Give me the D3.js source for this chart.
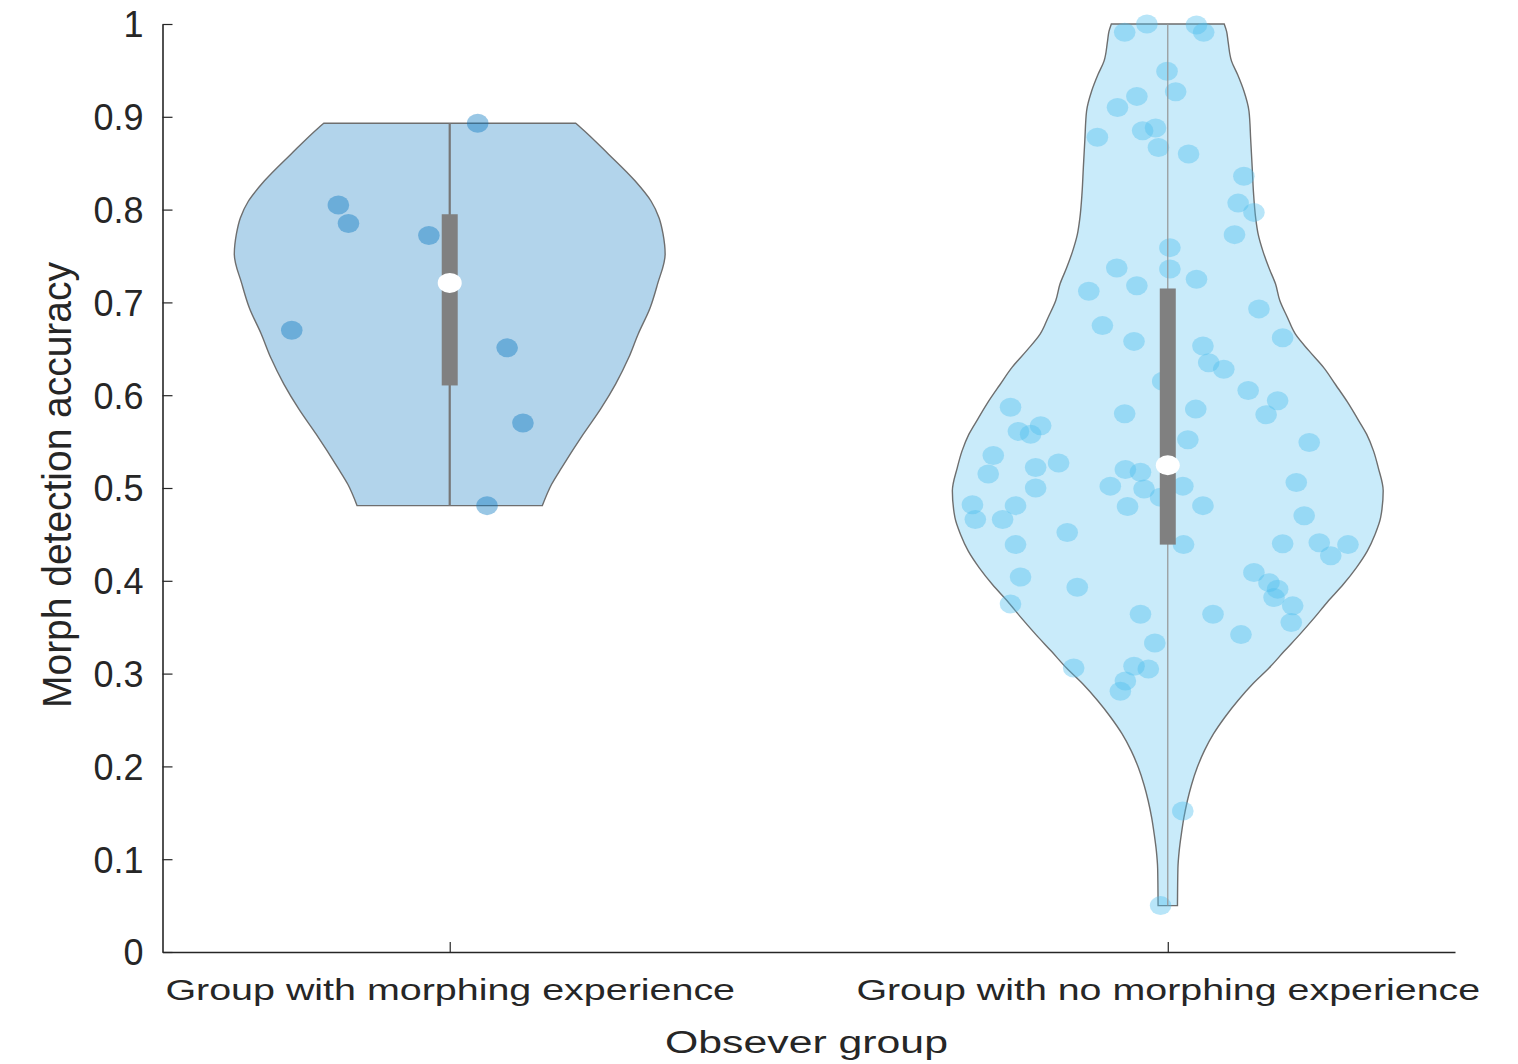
<!DOCTYPE html>
<html>
<head>
<meta charset="utf-8">
<script src="https://cdn.jsdelivr.net/npm/d3@7"></script>
<style>
  body { margin: 0; background: #fff; }
  svg { display: block; }
  text { font-family: "Liberation Sans", Arial, Helvetica, sans-serif; fill: #262626; }
</style>
</head>
<body>
<svg id="chart" width="1518" height="1064"></svg>
<script>
// ---- data ----------------------------------------------------------------
const categories = ["Group with morphing experience", "Group with no morphing experience"];
const categoryPositions = [1, 2];

const yTicks = [0, 0.1, 0.2, 0.3, 0.4, 0.5, 0.6, 0.7, 0.8, 0.9, 1];
const yTickLabels = ["0", "0.1", "0.2", "0.3", "0.4", "0.5", "0.6", "0.7", "0.8", "0.9", "1"];

// accuracy of each observer, with its horizontal jitter (x-axis units)
const expValues = [0.893, 0.805, 0.785, 0.772, 0.670, 0.651, 0.570, 0.481];
const expJitter = [0.039, -0.155, -0.141, -0.029, -0.220, 0.080, 0.102, 0.052];

const noExpValues = [
  1.000, 0.991, 0.999, 0.991, 0.949, 0.922, 0.927, 0.910, 0.885, 0.888,
  0.878, 0.867, 0.860, 0.836, 0.807, 0.797, 0.773, 0.759, 0.736, 0.737,
  0.718, 0.725, 0.712, 0.693, 0.675, 0.658, 0.662, 0.653, 0.635, 0.628,
  0.615, 0.605, 0.594, 0.579, 0.587, 0.580, 0.585, 0.567, 0.561, 0.558,
  0.552, 0.549, 0.535, 0.515, 0.522, 0.527, 0.520, 0.517, 0.502, 0.499,
  0.502, 0.490, 0.506, 0.500, 0.482, 0.481, 0.466, 0.466, 0.480, 0.481,
  0.470, 0.452, 0.439, 0.439, 0.440, 0.441, 0.439, 0.427, 0.404, 0.393,
  0.409, 0.398, 0.391, 0.382, 0.373, 0.375, 0.364, 0.364, 0.355, 0.342,
  0.333, 0.306, 0.308, 0.305, 0.292, 0.281, 0.152, 0.050
];
const noExpJitter = [
  -0.029, -0.060, 0.040, 0.050, -0.001, -0.043, 0.011, -0.070, -0.035, -0.017,
  -0.098, -0.013, 0.029, 0.106, 0.098, 0.120, 0.093, 0.003, 0.003, -0.071,
  -0.043, 0.040, -0.110, 0.127, -0.091, -0.047, 0.160, 0.049, 0.057, 0.078,
  -0.007, 0.112, 0.153, 0.137, -0.219, -0.060, 0.039, -0.177, -0.208, -0.191,
  0.028, 0.197, -0.243, -0.250, -0.184, -0.152, -0.059, -0.038, -0.080, -0.033,
  0.021, -0.010, 0.179, -0.184, -0.272, -0.212, -0.268, -0.230, -0.056, 0.049,
  0.190, -0.140, -0.212, 0.022, 0.160, 0.211, 0.251, 0.227, -0.205, -0.126,
  0.120, 0.141, 0.153, 0.148, 0.174, -0.219, -0.038, 0.063, 0.172, 0.102,
  -0.018, -0.131, -0.047, -0.027, -0.059, -0.066, 0.021, -0.010
];

// kernel density profiles: [accuracy, relative density]
const expDensity = [
  [0.481, 0.43], [0.504, 0.473], [0.522, 0.52], [0.558, 0.62], [0.585, 0.70],
  [0.612, 0.77], [0.640, 0.83], [0.666, 0.875], [0.694, 0.93], [0.720, 0.965],
  [0.752, 1.0], [0.774, 0.99], [0.791, 0.972], [0.809, 0.935], [0.831, 0.86],
  [0.860, 0.736], [0.888, 0.61], [0.893, 0.585]
];
const noExpDensity = [
  [0.050, 0.045], [0.090, 0.047], [0.109, 0.053], [0.127, 0.063], [0.145, 0.075],
  [0.163, 0.091], [0.180, 0.110], [0.199, 0.137], [0.217, 0.170], [0.235, 0.212],
  [0.253, 0.265], [0.271, 0.326], [0.289, 0.395], [0.306, 0.470], [0.324, 0.540],
  [0.342, 0.612], [0.360, 0.680], [0.378, 0.744], [0.396, 0.814], [0.414, 0.875],
  [0.432, 0.926], [0.450, 0.962], [0.468, 0.988], [0.497, 1.0], [0.522, 0.977],
  [0.540, 0.955], [0.558, 0.923], [0.575, 0.880], [0.593, 0.833], [0.611, 0.780],
  [0.630, 0.723], [0.648, 0.655], [0.666, 0.592], [0.684, 0.555], [0.702, 0.520],
  [0.720, 0.500], [0.737, 0.470], [0.755, 0.442], [0.773, 0.420], [0.791, 0.408],
  [0.818, 0.398], [0.845, 0.392], [0.875, 0.385], [0.906, 0.377], [0.928, 0.353],
  [0.945, 0.325], [0.960, 0.296], [0.981, 0.280], [0.992, 0.273], [1.000, 0.262]
];

// ---- layout ----------------------------------------------------------------
const violinWidth = 0.3;          // half width of the widest part, x-axis units
const xTickLabelLengths = [570, 624];

const groups = [
  { name: categories[0], pos: categoryPositions[0], values: expValues, jitter: expJitter,
    density: expDensity, color: "#0072BD", whisker: 2.2, whiskerColor: "#767676" },
  { name: categories[1], pos: categoryPositions[1], values: noExpValues, jitter: noExpJitter,
    density: noExpDensity, color: "#4DBEEE", whisker: 1.2, whiskerColor: "#959595" }
];

const svg = d3.select("#chart");
const x = d3.scaleLinear().domain([0.6, 2.4]).range([162.5, 1455]);
const y = d3.scaleLinear().domain([0, 1]).range([952, 24]);

// quantile as used by the box (midpoint interpolation)
function quantile(values, p) {
  const s = values.slice().sort(d3.ascending);
  const n = s.length;
  const pos = n * p + 0.5;           // 1-based
  if (pos <= 1) return s[0];
  if (pos >= n) return s[n - 1];
  const lo = Math.floor(pos), f = pos - lo;
  return s[lo - 1] + f * (s[lo] - s[lo - 1]);
}

// stretch a text horizontally (along its baseline) to a given length
function fitLength(sel, length, prefix) {
  sel.each(function (d, i) {
    const L = typeof length === "function" ? length(d, i) : length;
    const natural = this.getComputedTextLength();
    const s = L / natural;
    d3.select(this).attr("transform", `${prefix || ""} scale(${s},1)`);
  });
}

const plot = svg.append("g");

groups.forEach(g => {
  const area = d3.area()
    .curve(d3.curveMonotoneY)
    .y(d => y(d[0]))
    .x0(d => x(g.pos - violinWidth * d[1]))
    .x1(d => x(g.pos + violinWidth * d[1]));

  const gg = plot.append("g");

  gg.append("path")
    .datum(g.density)
    .attr("d", area)
    .attr("fill", g.color)
    .attr("fill-opacity", 0.3)
    .attr("stroke", "#6e6e6e")
    .attr("stroke-width", 1.4);

  gg.append("g")
    .selectAll("ellipse")
    .data(g.values.map((v, i) => ({ v, j: g.jitter[i] })))
    .join("ellipse")
    .attr("cx", d => x(g.pos + d.j))
    .attr("cy", d => y(d.v))
    .attr("rx", 10.8)
    .attr("ry", 9.5)
    .attr("fill", g.color)
    .attr("fill-opacity", 0.4);

  const [lo, hi] = d3.extent(g.values);
  gg.append("line")
    .attr("x1", x(g.pos)).attr("x2", x(g.pos))
    .attr("y1", y(lo)).attr("y2", y(hi))
    .attr("stroke", g.whiskerColor)
    .attr("stroke-width", g.whisker);

  const q1 = quantile(g.values, 0.25);
  const med = quantile(g.values, 0.5);
  const q3 = quantile(g.values, 0.75);

  gg.append("rect")
    .attr("x", x(g.pos) - 8)
    .attr("width", 16)
    .attr("y", y(q3))
    .attr("height", y(q1) - y(q3))
    .attr("fill", "#808080");

  gg.append("ellipse")
    .attr("cx", x(g.pos))
    .attr("cy", y(med))
    .attr("rx", 12)
    .attr("ry", 10)
    .attr("fill", "#ffffff");
});

// ---- axes ------------------------------------------------------------------
const yAxis = d3.axisLeft(y)
  .tickValues(yTicks)
  .tickFormat((d, i) => yTickLabels[i])
  .tickSizeInner(-10)
  .tickSizeOuter(0)
  .tickPadding(19);

const yg = svg.append("g")
  .attr("transform", `translate(${x.range()[0]},0)`)
  .call(yAxis)
  .attr("font-family", null)
  .attr("font-size", null)
  .attr("color", "#262626");
yg.select(".domain").attr("stroke-width", 1.6);
yg.selectAll(".tick line").attr("stroke-width", 1.2);
yg.selectAll(".tick text").attr("font-size", 36).attr("dy", "0.36em");

const xAxis = d3.axisBottom(x)
  .tickValues(categoryPositions)
  .tickFormat((d, i) => categories[i])
  .tickSizeInner(-10)
  .tickSizeOuter(0);

const xg = svg.append("g")
  .attr("transform", `translate(0,${y.range()[0]})`)
  .call(xAxis)
  .attr("font-family", null)
  .attr("font-size", null)
  .attr("color", "#262626");
xg.select(".domain").attr("stroke-width", 1.6);
xg.selectAll(".tick line").attr("stroke-width", 1.2);
xg.selectAll(".tick text")
  .attr("font-size", 30)
  .attr("y", 48)
  .attr("dy", 0)
  .call(fitLength, (d, i) => xTickLabelLengths[i]);

// axis titles
svg.append("text")
  .attr("text-anchor", "middle")
  .attr("font-size", 31)
  .text("Obsever group")
  .call(fitLength, 283, "translate(806.5,1053)");

svg.append("text")
  .attr("text-anchor", "middle")
  .attr("font-size", 40)
  .text("Morph detection accuracy")
  .call(fitLength, 446, "translate(71,485) rotate(-90)");
</script>
</body>
</html>
